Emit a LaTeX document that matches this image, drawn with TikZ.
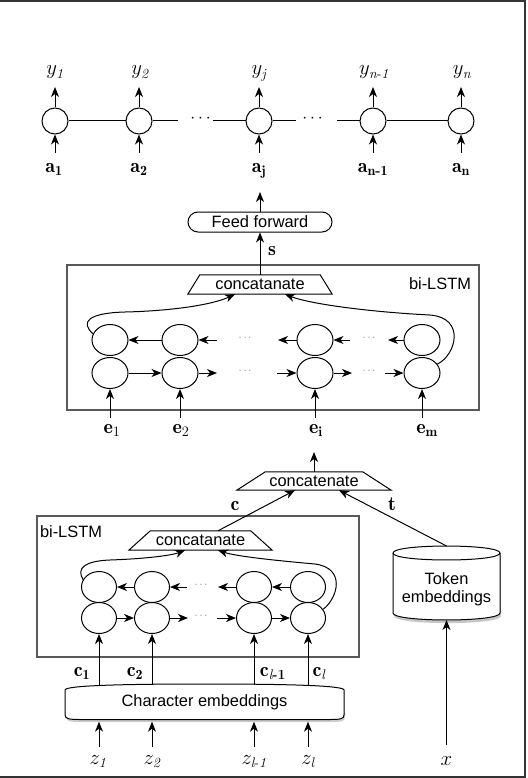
\documentclass[tikz,border=0pt]{standalone}
\usepackage{amsmath}
\usepackage{fontspec}
\newfontfamily\hv{Liberation Sans}
\usetikzlibrary{arrows.meta,shapes.geometric,calc}
\begin{document}
\begin{tikzpicture}[x=1pt,y=-1pt,
 arr/.style={-{Stealth[length=10pt,width=8pt,inset=3pt]}, line width=1pt},
 ln/.style={line width=1pt},
 crf/.style={circle, draw, line width=1pt, minimum size=26pt, inner sep=0pt},
 cell/.style={ellipse, draw, line width=1pt, minimum width=36pt, minimum height=31pt, inner sep=0pt},
 ccell/.style={cell, minimum width=35pt},
 lbl/.style={inner sep=0pt, anchor=base, font=\fontsize{20}{22}\selectfont},
 sf/.style={font=\hv\fontsize{16.4}{18}\selectfont},
 dotsn/.style={inner sep=0pt, text=black!55, font=\fontsize{11}{12}\selectfont},
 boxn/.style={draw=black!65, line width=1.6pt, inner sep=0pt},
 trapn/.style={sf, inner sep=0pt},
 outline/.style={draw, line width=1pt},
 frame/.style={draw=black!80, line width=2pt},
]
\useasboundingbox (0,0) rectangle (527,778);
% outer frame
\draw[frame] (0,1) -- (524.5,1) -- (524.5,776.5) -- (0,776.5);

% ---------------- CRF row ----------------
\node[crf] (c1) at (55,121) {};
\node[crf] (c2) at (139,121) {};
\node[crf] (cj) at (259,121) {};
\node[crf] (cn1) at (373,121) {};
\node[crf] (cn) at (461,121) {};
\coordinate (h1) at (178,121);
\coordinate (h2) at (213,121);
\coordinate (h3) at (296,121);
\coordinate (h4) at (337,121);
\draw[ln] (c1) -- (c2);
\draw[ln] (c2) -- (h1);
\draw[ln] (h2) -- (cj);
\draw[ln] (cj) -- (h3);
\draw[ln] (h4) -- (cn1);
\draw[ln] (cn1) -- (cn);
\node[inner sep=0pt, font=\fontsize{17}{20}\selectfont] (d1) at (202,119) {$\cdots$};
\node[inner sep=0pt, font=\fontsize{17}{20}\selectfont] (d2) at (314,119) {$\cdots$};

\node[lbl] (y1) at (55,75) {$y_{\mathit{1}}$};
\node[lbl] (y2) at (140,75) {$y_{\mathit{2}}$};
\node[lbl] (yj) at (259,75) {$y_{\mathit{j}}$};
\node[lbl] (yn1) at (374,75) {$y_{\mathit{n}\text{-}\mathit{1}}$};
\node[lbl] (yn) at (462,75) {$y_{\mathit{n}}$};
\foreach \c/\y in {c1/y1,c2/y2,cj/yj,cn1/yn1,cn/yn}
  \draw[arr, shorten >=12pt] (\c.north) -- (\c.north |- \y.base);

\node[lbl] (a1) at (54,172) {$\mathbf{a}_{\mathbf{1}}$};
\node[lbl] (a2) at (139,172) {$\mathbf{a}_{\mathbf{2}}$};
\node[lbl] (aj) at (259,172) {$\mathbf{a}_{\mathbf{j}}$};
\node[lbl] (an1) at (373,172) {$\mathbf{a}_{\mathbf{n}\text{\bfseries -}\mathbf{1}}$};
\node[lbl] (an) at (461,172) {$\mathbf{a}_{\mathbf{n}}$};
\foreach \c/\a in {c1/a1,c2/a2,cj/aj,cn1/an1,cn/an}
  \draw[arr, shorten <=19pt] (\c.south |- \a.base) -- (\c.south);

% ---------------- Feed forward ----------------
\node[sf, draw, line width=1pt, rounded corners=10pt, minimum width=144pt, minimum height=20pt, inner sep=0pt] (ff) at (260,222) {Feed forward};
\draw[arr, shorten >=20pt] (ff.north) -- (ff.north |- aj.base);

% ---------------- upper bi-LSTM ----------------
\node[boxn, minimum width=412pt, minimum height=145pt] (ubox) at (273,337.5) {};
\node[sf] (ubl) at (440,284) {bi-LSTM};
\node[trapn, minimum width=144pt, minimum height=19pt] (uc) at (260,284.5) {concatanate};
\draw[outline] (uc.south west) -- ([xshift=12pt]uc.north west) -- ([xshift=-12pt]uc.north east) -- (uc.south east) -- cycle;
\draw[arr] (uc.north) -- (ff.south);
\node[lbl] (s) at (272,255) {$\mathbf{s}$};

\node[cell] (u1t) at (110,340) {};
\node[cell] (u2t) at (180,340) {};
\node[cell] (uit) at (315,340) {};
\node[cell] (umt) at (422,340) {};
\node[cell] (u1b) at (110,373) {};
\node[cell] (u2b) at (180,373) {};
\node[cell] (uib) at (315,373) {};
\node[cell] (umb) at (422,373) {};

\coordinate (ut1) at (217,340);
\coordinate (ut2) at (278,340);
\coordinate (ut3) at (350,340);
\coordinate (ut4) at (388,340);
\draw[arr] (u2t) -- (u1t);
\draw[arr] (ut1) -- (u2t);
\draw[arr] (uit) -- (ut2);
\draw[arr] (ut3) -- (uit);
\draw[arr] (umt) -- (ut4);
\coordinate (ub1) at (217,373);
\coordinate (ub2) at (277,373);
\coordinate (ub3) at (352,373);
\coordinate (ub4) at (385,373);
\draw[arr] (u1b) -- (u2b);
\draw[arr] (u2b) -- (ub1);
\draw[arr] (ub2) -- (uib);
\draw[arr] (uib) -- (ub3);
\draw[arr] (ub4) -- (umb);
\node[dotsn] (ud1) at (246,338) {$\cdots$};
\node[dotsn] (ud2) at (370,338) {$\cdots$};
\node[dotsn] (ud3) at (246,371) {$\cdots$};
\node[dotsn] (ud4) at (370,371) {$\cdots$};

\draw[arr] (u1t.160) .. controls (80,322) and (88,313) .. (125,312) .. controls (170,311) and (212,305) .. ([xshift=-25pt]uc.south);
\draw[arr] (umb.30) .. controls (456,355) and (466,318) .. (430,315) .. controls (370,312) and (310,304) .. ([xshift=25pt]uc.south);

\node[lbl] (e1) at (112,433) {$\mathbf{e}_1$};
\node[lbl] (e2) at (181,433) {$\mathbf{e}_2$};
\node[lbl] (ei) at (316,433) {$\mathbf{e}_{\mathbf{i}}$};
\node[lbl] (em) at (427,433) {$\mathbf{e}_{\mathbf{m}}$};
\foreach \u/\e in {u1b/e1,u2b/e2,uib/ei,umb/em}
  \draw[arr, shorten <=15pt] (\u.south |- \e.base) -- (\u.south);

% ---------------- middle concatenate ----------------
\node[trapn, minimum width=154pt, minimum height=18pt] (lc) at (314,481) {concatenate};
\draw[outline] (lc.south west) -- ([xshift=28.5pt]lc.north west) -- ([xshift=-28.5pt]lc.north east) -- (lc.south east) -- cycle;
\draw[arr, shorten >=19pt] (lc.north) -- (lc.north |- ei.base);

% ---------------- lower bi-LSTM ----------------
\node[boxn, minimum width=322pt, minimum height=141pt] (lbox) at (198,586.5) {};
\node[sf] (lbl2) at (71,532) {bi-LSTM};
\node[trapn, minimum width=143pt, minimum height=19pt] (lc2) at (200.5,540.5) {concatanate};
\draw[outline] (lc2.south west) -- ([xshift=21.5pt]lc2.north west) -- ([xshift=-21.5pt]lc2.north east) -- (lc2.south east) -- cycle;

\node[ccell] (l1t) at (99,587) {};
\node[ccell] (l2t) at (152,587) {};
\node[ccell] (lpt) at (254,587) {};
\node[ccell] (llt) at (308,587) {};
\node[ccell] (l1b) at (99,618) {};
\node[ccell] (l2b) at (152,618) {};
\node[ccell] (lpb) at (254,618) {};
\node[ccell] (llb) at (308,618) {};

\coordinate (lt1) at (187,587);
\coordinate (lt2) at (218,587);
\draw[arr] (l2t) -- (l1t);
\draw[arr] (lt1) -- (l2t);
\draw[arr] (lpt) -- (lt2);
\draw[arr] (llt) -- (lpt);
\coordinate (lb1) at (188,618);
\coordinate (lb2) at (217,618);
\draw[arr] (l1b) -- (l2b);
\draw[arr] (l2b) -- (lb1);
\draw[arr] (lb2) -- (lpb);
\draw[arr] (lpb) -- (llb);
\node[dotsn] (ld1) at (202,585) {$\cdots$};
\node[dotsn] (ld2) at (202,616) {$\cdots$};

\draw[arr] (l1t.155) .. controls (76,568) and (85,561) .. (110,560) .. controls (140,559) and (170,556) .. ([xshift=-15.5pt]lc2.south);
\draw[arr] (llb.30) .. controls (338,598) and (346,568) .. (315,564) .. controls (270,560) and (235,556) .. ([xshift=17.5pt]lc2.south);

% c and t connectors
\node[lbl] (cc) at (235,510) {$\mathbf{c}$};
\node[lbl] (tt) at (392,510) {$\mathbf{t}$};
\draw[arr] ([xshift=17.5pt]lc2.north) -- ([xshift=-19pt]lc.south);

% ---------------- Token embeddings cylinder ----------------
\coordinate (tetop) at (446.5,546);
\coordinate (tebot) at (446.5,620);
\fill[black!22] (394,556) -- (394,616) .. controls (394,625.5) and (501,625.5) .. (501,616) -- (501,556) -- cycle;
\draw[outline, fill=white] (393,553) -- (393,613) .. controls (393,622.3) and (500,622.3) .. (500,613) -- (500,553) .. controls (500,543.7) and (393,543.7) .. (393,553) -- cycle;
\draw[outline] (393,553) .. controls (393,562.3) and (500,562.3) .. (500,553);
\node[sf, align=center, inner sep=0pt] (te) at (446.5,589) {Token\\embeddings};
\draw[arr] (tetop) -- ([xshift=25pt]lc.south);

% ---------------- Character embeddings ----------------
\fill[black!20] (66,712) -- (66,717) .. controls (66,721.5) and (71,722) .. (81,722) -- (331,722) .. controls (341,722) and (345,721.5) .. (345,717) -- (345,712) -- cycle;
\draw[outline, fill=white] (65,690) -- (65,715) .. controls (65,719) and (70,719.5) .. (80,719.5) -- (330,719.5) .. controls (340,719.5) and (344,719) .. (344,715) -- (344,690) .. controls (344,686) and (300,684) .. (204.5,684) .. controls (110,684) and (65,686) .. (65,690) -- cycle;
\node[sf, minimum width=279pt, minimum height=33pt, inner sep=0pt] (ce) at (204.5,702) {Character embeddings};

\foreach \l in {l1b,l2b,lpb,llb}
  \draw[arr] (\l.south |- ce.north) -- (\l.south);
\node[lbl] (c1l) at (82,676) {$\mathbf{c}_{\mathbf{1}}$};
\node[lbl] (c2l) at (135,676) {$\mathbf{c}_{\mathbf{2}}$};
\node[lbl] (cpl) at (273,676) {$\mathbf{c}_{\mathit{l}\text{\bfseries -1}}$};
\node[lbl] (cll) at (319,676) {$\mathbf{c}_{\mathit{l}}$};

\node[lbl] (z1) at (98,764) {$z_{\mathit{1}}$};
\node[lbl] (z2) at (152,764) {$z_{\mathit{2}}$};
\node[lbl] (zp) at (254,764) {$z_{\mathit{l}\text{-}\mathit{1}}$};
\node[lbl] (zl) at (308,764) {$z_{\mathit{l}}$};
\foreach \l/\z in {l1b/z1,l2b/z2,lpb/zp,llb/zl}
  \draw[arr, shorten <=17pt, shorten >=3pt] (\l.south |- \z.base) -- (\l.south |- ce.south);

\node[lbl] (xl) at (446.5,765) {$x$};
\draw[arr, shorten <=20pt] (xl.base) -- (tebot);
\end{tikzpicture}
\end{document}
